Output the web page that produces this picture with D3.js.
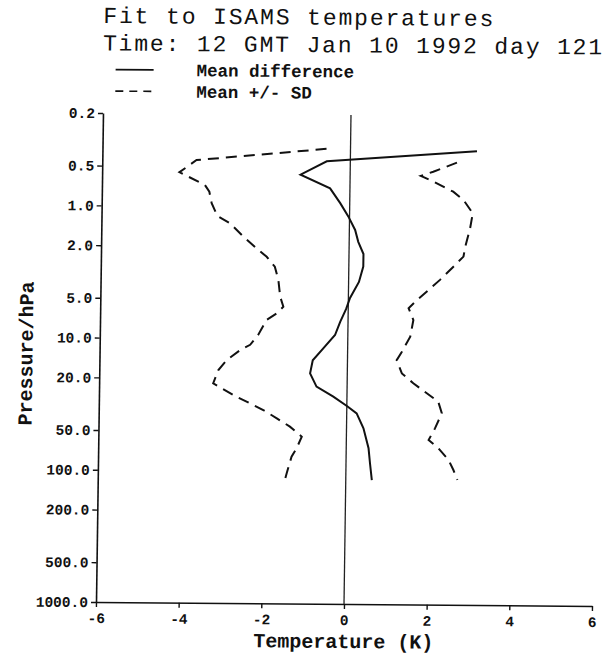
<!DOCTYPE html>
<html>
<head>
<meta charset="utf-8">
<script src="https://cdn.jsdelivr.net/npm/d3@7/dist/d3.min.js"></script>
<style>
  html, body { margin: 0; padding: 0; background: #fff; }
  svg { display: block; }
</style>
</head>
<body>
<svg id="chart" width="616" height="654"></svg>
<script>
// ---------- data ----------
const titleLines = ["Fit to ISAMS temperatures", "Time: 12 GMT Jan 10 1992 day 121"];
const legendLabels = ["Mean difference", "Mean +/- SD"];
const xTicks = [-6, -4, -2, 0, 2, 4, 6];
const yTicks = [0.2, 0.5, 1, 2, 5, 10, 20, 50, 100, 200, 500, 1000];

const meanP = [0.37, 0.45, 0.57, 0.72, 0.93, 1.17, 1.48, 1.82, 2.25, 2.8, 3.66, 4.84, 5.86, 7.36, 9.25, 11.7, 14.4, 18.1, 22.8, 27.1, 31.9, 36.1, 46.8, 66.2, 85.9, 115];
const meanT = [3.06, -0.57, -1.2, -0.48, -0.23, -0.03, 0.14, 0.22, 0.35, 0.35, 0.25, 0.04, -0.05, -0.19, -0.31, -0.59, -0.84, -0.90, -0.74, -0.33, 0.01, 0.24, 0.41, 0.54, 0.58, 0.63];

const lowP = [0.362, 0.448, 0.555, 0.69, 0.776, 0.948, 1.18, 1.34, 1.69, 2.07, 2.39, 2.84, 3.57, 4.78, 5.69, 6.4, 7.18, 9.33, 11.1, 12.2, 14.5, 17.3, 21.8, 23.8, 27.5, 30.8, 34.5, 39.8, 45.9, 54.6, 66.8, 77.5, 103, 115];
const lowT = [-0.58, -3.72, -4.13, -3.51, -3.40, -3.34, -3.20, -2.89, -2.56, -2.24, -1.99, -1.79, -1.70, -1.65, -1.57, -1.73, -1.97, -2.17, -2.36, -2.60, -2.92, -3.12, -3.24, -3.03, -2.67, -2.34, -2.02, -1.69, -1.37, -1.08, -1.20, -1.32, -1.43, -1.47];

const highP = [0.452, 0.531, 0.573, 0.631, 0.75, 0.865, 1.09, 1.42, 1.95, 2.32, 2.77, 3.49, 4.3, 4.97, 5.74, 7.05, 9.42, 12.3, 14.2, 17.9, 21.2, 25.2, 29.1, 35.6, 46.4, 56.8, 65.6, 80.4, 95.5, 113.5];
const highT = [2.58, 2.01, 1.71, 2.02, 2.50, 2.75, 2.98, 2.92, 2.81, 2.77, 2.53, 2.21, 1.89, 1.66, 1.46, 1.58, 1.51, 1.31, 1.19, 1.32, 1.60, 1.93, 2.21, 2.30, 2.14, 1.99, 2.23, 2.48, 2.60, 2.70];

// ---------- layout ----------
const W = 616, H = 654;
const mLeft = 96, mRight = 592, mTop = 113, mBottom = 602;
const mono = "'Liberation Mono', 'DejaVu Sans Mono', monospace";
const titleCharW = 15.6;

const svg = d3.select("#chart");
svg.append("rect").attr("width", W).attr("height", H).attr("fill", "#fff");

// slight skew, like the scanned original
const g = svg.append("g")
  .attr("transform", `translate(${mLeft},${mBottom}) matrix(1,0.008,-0.0143,1,0,0) translate(${-mLeft},${-mBottom})`);

const x = d3.scaleLinear().domain([-6, 6]).range([mLeft, mRight]);
const y = d3.scaleLog().domain([1000, 0.2]).range([mBottom, mTop]);

// title
g.append("g").selectAll("text").data(titleLines).join("text")
  .attr("x", 95)
  .attr("y", (d, i) => 23 + i * 27.5)
  .attr("font-family", mono)
  .attr("font-size", 23)
  .attr("textLength", d => d.length * titleCharW)
  .attr("lengthAdjust", "spacing")
  .attr("fill", "#111")
  .text(d => d);

// legend
const leg = g.append("g");
legendLabels.forEach((lab, i) => {
  const ly = 75.5 + i * 21.5;
  leg.append("line")
    .attr("x1", 108).attr("x2", 146)
    .attr("y1", ly - 6).attr("y2", ly - 6)
    .attr("stroke", "#111").attr("stroke-width", 1.6)
    .attr("stroke-dasharray", i === 0 ? null : "8,6");
  leg.append("text")
    .attr("x", 189).attr("y", ly)
    .attr("font-family", mono).attr("font-weight", "bold")
    .attr("font-size", 17.5).attr("fill", "#111")
    .text(lab);
});

// axes
const yAxis = d3.axisLeft(y).tickValues(yTicks).tickFormat(d3.format(".1f")).tickSize(5).tickSizeOuter(0);
const yG = g.append("g").attr("transform", `translate(${mLeft},0)`).call(yAxis);
yG.select(".domain").attr("stroke", "#111").attr("stroke-width", 1.6);
yG.selectAll(".tick line").attr("stroke", "#111").attr("stroke-width", 1.4);
yG.selectAll(".tick text")
  .attr("font-family", mono).attr("font-weight", "bold")
  .attr("font-size", 14.5).attr("fill", "#111").attr("x", -8);

const xAxis = d3.axisBottom(x).tickValues(xTicks).tickFormat(d => String(d)).tickSize(5).tickSizeOuter(0);
const xG = g.append("g").attr("transform", `translate(0,${mBottom})`).call(xAxis);
xG.select(".domain").attr("stroke", "#111").attr("stroke-width", 1.6);
xG.selectAll(".tick line").attr("stroke", "#111").attr("stroke-width", 1.4);
xG.selectAll(".tick text")
  .attr("font-family", mono).attr("font-weight", "bold")
  .attr("font-size", 14.5).attr("fill", "#111").attr("dy", "0.9em");

// axis titles
g.append("text")
  .attr("x", (mLeft + mRight) / 2).attr("y", 646)
  .attr("text-anchor", "middle")
  .attr("font-family", mono).attr("font-weight", "bold")
  .attr("font-size", 20).attr("fill", "#111")
  .text("Temperature (K)");

g.append("text")
  .attr("transform", "translate(29,354) rotate(-90)")
  .attr("text-anchor", "middle")
  .attr("font-family", mono).attr("font-weight", "bold")
  .attr("font-size", 20).attr("fill", "#111")
  .text("Pressure/hPa");

// zero line
g.append("line")
  .attr("x1", x(0)).attr("x2", x(0))
  .attr("y1", y(1000)).attr("y2", y(0.2))
  .attr("stroke", "#222").attr("stroke-width", 1.3);

// profiles
const line = d3.line().x(d => x(d.t)).y(d => y(d.p));
const zipP = (ps, ts) => ps.map((p, i) => ({ p: p, t: ts[i] }));

g.append("path").datum(zipP(meanP, meanT))
  .attr("d", line).attr("fill", "none")
  .attr("stroke", "#111").attr("stroke-width", 2);

[zipP(lowP, lowT), zipP(highP, highT)].forEach(series => {
  g.append("path").datum(series)
    .attr("d", line).attr("fill", "none")
    .attr("stroke", "#111").attr("stroke-width", 2)
    .attr("stroke-dasharray", "11,7");
});
</script>
</body>
</html>
